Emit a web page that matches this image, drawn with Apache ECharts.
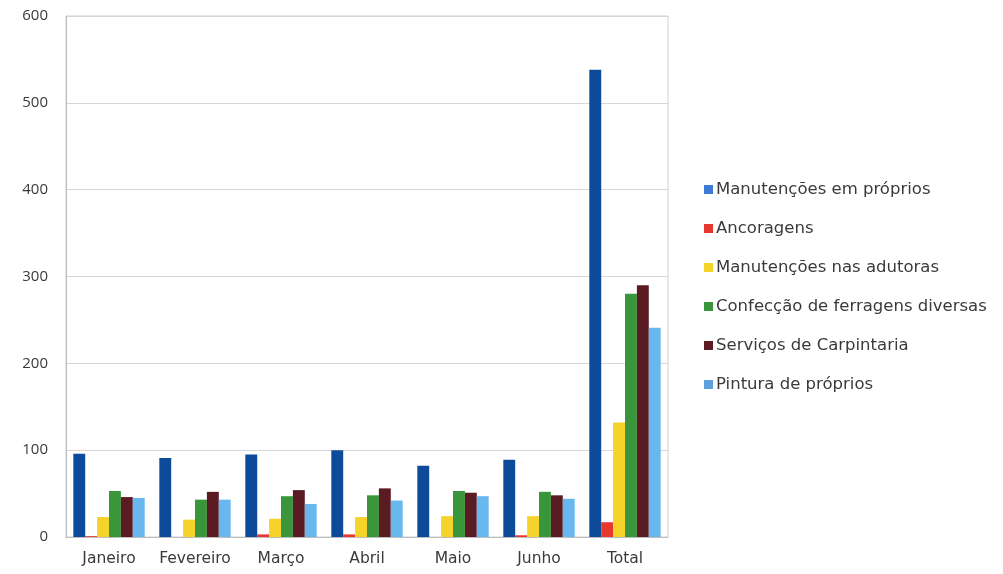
<!DOCTYPE html>
<html><head><meta charset="utf-8">
<script src="https://cdn.jsdelivr.net/npm/echarts@6/dist/echarts.min.js"></script>
<style>html,body{margin:0;padding:0;background:#fff}#c{width:1003px;height:574px}</style>
</head><body><div id="c"></div>
<script>
const categories = ["Janeiro","Fevereiro","Março","Abril","Maio","Junho","Total"];
const seriesNames = ["Manutenções em próprios","Ancoragens","Manutenções nas adutoras","Confecção de ferragens diversas","Serviços de Carpintaria","Pintura de próprios"];
const manutencoesProprios = [96, 91, 95, 100, 82, 89, 538];
const ancoragens = [1, 0, 3, 3, 0, 2, 17];
const manutencoesAdutoras = [23, 20, 21, 23, 24, 24, 132];
const confeccaoFerragens = [53, 43, 47, 48, 53, 52, 280];
const servicosCarpintaria = [46, 52, 54, 56, 51, 48, 290];
const pinturaProprios = [45, 43, 38, 42, 47, 44, 241];
const yTicks = [0, 100, 200, 300, 400, 500, 600];
const colors = ["#0E4A9A","#E8382D","#F6D32B","#3A963A","#5A1B22","#68B7EE"];
const legendColors = ["#3D7BD4","#E8382D","#F6D32B","#3A963A","#5A1B22","#5E9FE0"];
const allData = [manutencoesProprios, ancoragens, manutencoesAdutoras, confeccaoFerragens, servicosCarpintaria, pinturaProprios];

const chart = echarts.init(document.getElementById('c'));
const font = "'DejaVu Sans', sans-serif";
chart.setOption({
  animation: false,
  textStyle: {fontFamily: font},
  grid: {left: 66, right: 335, top: 16, bottom: 37, show: true, borderColor: '#d0d0d0', borderWidth: 1},
  legend: {
    orient: 'vertical', left: 699, top: 176, itemGap: 22, itemWidth: 9, itemHeight: 9,
    icon: 'rect',
    textStyle: {fontSize: 16.5, color: '#3a3a3a', fontFamily: font, padding: [0,0,0,-2]},
    data: seriesNames.map((n, i) => ({name: n, itemStyle: {color: legendColors[i]}}))
  },
  xAxis: {
    type: 'category', data: categories,
    axisLine: {lineStyle: {color: '#bdbdbd'}},
    axisTick: {show: false},
    axisLabel: {fontSize: 15.5, color: '#3a3a3a', margin: 14, fontFamily: font, interval: 0, hideOverlap: false}
  },
  yAxis: {
    type: 'value', min: yTicks[0], max: yTicks[yTicks.length-1], interval: 100,
    axisLine: {show: true, lineStyle: {color: '#bdbdbd'}},
    axisLabel: {fontSize: 15, color: '#3a3a3a', margin: 18, fontFamily: "'Open Sans', sans-serif"},
    splitLine: {lineStyle: {color: '#d6d6d6'}}
  },
  series: seriesNames.map((n, i) => ({
    name: n, type: 'bar', data: allData[i],
    itemStyle: {color: colors[i]},
    barGap: '0%', barCategoryGap: '17%'
  }))
});
</script></body></html>
